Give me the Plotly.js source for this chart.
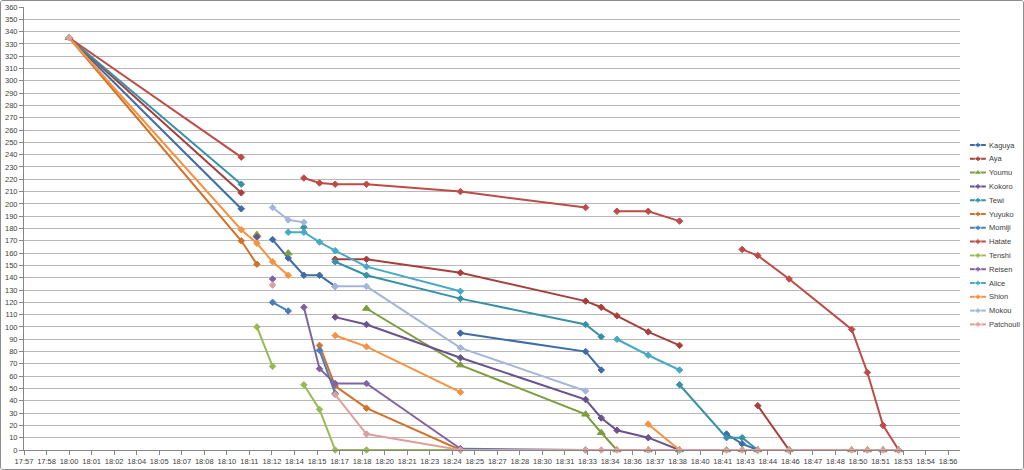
<!DOCTYPE html>
<html>
<head>
<meta charset="utf-8">
<script src="https://cdn.plot.ly/plotly-3.0.1.min.js"></script>
<style>
html,body{margin:0;padding:0;background:#fff;}
#wrap{width:1024px;height:470px;box-sizing:border-box;border:1px solid #8c8c8c;border-radius:3px;overflow:hidden;}
#chart{width:1022px;height:468px;}
</style>
</head>
<body>
<div id="wrap"><div id="chart"></div></div>
<script>
// time columns (hh:mm)
const times = ['18:00','18:11','18:12','18:13','18:14','18:15','18:16','18:17','18:19','18:25','18:33','18:34','18:35','18:37','18:39','18:42','18:43','18:44','18:46','18:50','18:51','18:52','18:53'];
const names = ['Kaguya','Aya','Youmu','Kokoro','Tewi','Yuyuko','Momiji','Hatate','Tenshi','Reisen','Alice','Shion','Mokou','Patchouli'];
const _ = null;
const kaguya    = [335,196,_,171,156,142,142,133,_,95,80,65,_,_,_,13,5,0,_,_,_,_,_];
const aya       = [335,209,_,_,_,_,_,155,155,144,121,116,109,96,85,_,_,36,0,_,_,_,_];
const youmu     = [335,_,175,_,160,_,_,_,115,69,29,14,0,0,0,0,0,0,0,0,0,0,0];
const kokoro    = [335,_,173,_,_,_,_,108,102,75,41,26,16,10,0,_,_,_,_,_,_,_,_];
const tewi      = [335,216,_,_,_,181,_,153,142,123,102,92,_,_,53,10,10,0,_,_,_,_,_];
const yuyuko    = [335,170,151,_,_,_,85,52,34,0,_,_,_,_,_,_,_,_,_,_,_,_,_];
const momiji    = [335,_,_,120,113,_,81,46,_,1,0,_,_,_,_,_,_,_,_,_,_,_,_];
const hatate    = [335,238,_,_,_,221,217,216,216,210,197,_,194,194,186,_,163,158,139,98,63,20,0];
const tenshi    = [335,_,100,68,_,53,33,0,0,0,_,_,_,_,_,_,_,_,_,_,_,_,_];
const reisen    = [335,_,_,139,_,116,66,54,54,1,_,_,_,_,_,_,_,_,_,_,_,_,_];
const alice     = [335,_,_,_,177,177,169,162,149,129,_,_,90,77,65,_,_,_,_,_,_,_,_];
const shion     = [335,179,168,153,142,_,_,93,84,47,_,_,_,21,0,_,_,_,_,_,_,_,_];
const mokou     = [335,_,_,197,187,185,_,133,133,83,48,_,_,_,_,_,_,_,_,_,_,_,_];
const patchouli = [335,_,_,134,_,_,_,45,13,0,0,0,0,0,0,0,0,0,0,0,0,0,0];
const yTicks = [0,360,10];

const seriesValues = [kaguya,aya,youmu,kokoro,tewi,yuyuko,momiji,hatate,tenshi,reisen,alice,shion,mokou,patchouli];
const colors = ['#3F6CA8','#A7403C','#7E9C3E','#6A518F','#3791A8','#D2722A','#4A7EBB','#BE4B48','#98B954','#8064A2','#46AAC5','#F69240','#A5B6DB','#DCA09E'];
const isTri = [false,false,true,false,false,false,false,false,false,false,false,false,false,false];

const day = '2000-01-01 ';
const xs = times.map(t => day + t + ':00');

const traces = [];
seriesValues.forEach((vals, i) => {
  const tri = isTri[i];
  traces.push({
    type:'scatter', mode:'lines+markers', name:names[i],
    x: xs, y: vals, connectgaps:false,
    line:{color:colors[i], width:2},
    marker:{symbol: tri ? 'triangle-up' : 'diamond', size: tri ? 7 : 5, color:colors[i],
            line:{color:colors[i], width:1}},
    xaxis:'x', yaxis:'y', showlegend:false, cliponaxis:false
  });
});

// custom legend samples
const legTop = 145, legStep = 13.8;
const annotations = [];
names.forEach((n, i) => {
  const yy = legTop + legStep*i;
  const tri = isTri[i];
  traces.push({
    type:'scatter', mode:'lines+markers', x:[0,0.5,1], y:[yy,yy,yy],
    line:{color:colors[i], width:2},
    marker:{symbol: tri ? 'triangle-up' : 'diamond', size:[0, tri ? 7 : 5, 0], color:colors[i]},
    xaxis:'x2', yaxis:'y2', showlegend:false, hoverinfo:'skip'
  });
  annotations.push({xref:'x2', yref:'y2', x:1, y:yy, text:n, showarrow:false,
    xanchor:'left', yanchor:'middle', xshift:1,
    font:{family:'Liberation Sans, Arial, sans-serif', size:7.5, color:'#404040'}});
});

const tickFont = {family:'Liberation Sans, Arial, sans-serif', size:7.5, color:'#404040'};
const layout = {
  width:1022, height:468,
  margin:{l:23, r:2, t:6, b:19},
  paper_bgcolor:'#fff', plot_bgcolor:'rgba(0,0,0,0)',
  showlegend:false,
  xaxis:{type:'date', domain:[0,0.9388], range:[day+'17:57:07.2', day+'18:56:55'],
         tick0: day+'17:57:07.2', dtick:86400, tickformat:'%H:%M',
         showgrid:false, zeroline:false, showline:true, linecolor:'#868686', linewidth:1,
         ticks:'outside', ticklen:4, tickcolor:'#868686', tickfont:tickFont, anchor:'y'},
  yaxis:{range:[yTicks[0], yTicks[1]], dtick:yTicks[2], tick0:0,
         showgrid:true, gridcolor:'#b8b8b8', gridwidth:1, zeroline:false,
         showline:true, linecolor:'#868686', linewidth:1,
         ticks:'outside', ticklen:4, tickcolor:'#868686', tickfont:tickFont, anchor:'x'},
  xaxis2:{domain:[0.9488,0.9648], range:[0,1], visible:false, anchor:'y2', fixedrange:true},
  yaxis2:{domain:[0,1], range:[450,7], visible:false, anchor:'x2', fixedrange:true},
  annotations: annotations
};
Plotly.newPlot('chart', traces, layout, {displayModeBar:false, staticPlot:true});
</script>
</body>
</html>
